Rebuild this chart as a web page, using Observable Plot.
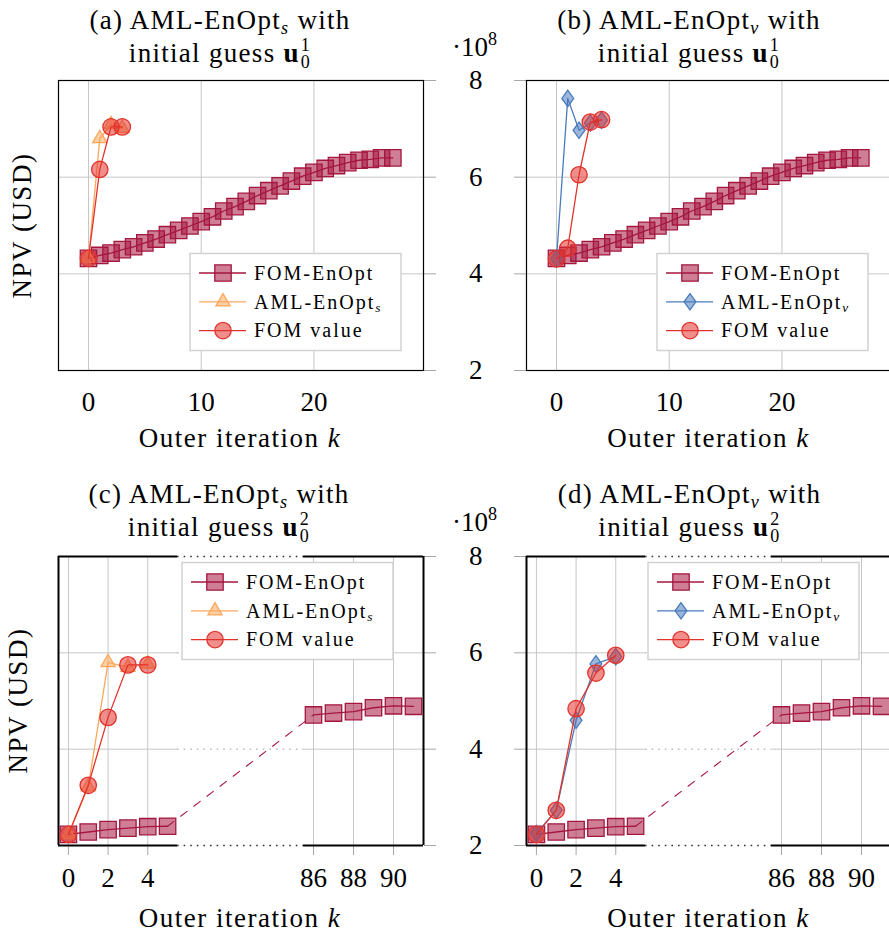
<!DOCTYPE html>
<html><head><meta charset="utf-8">
<script src="https://cdn.jsdelivr.net/npm/d3@7"></script>
<script src="https://cdn.jsdelivr.net/npm/@observablehq/plot@0.6"></script>
<style>
html,body{margin:0;padding:0;background:#fff;}
#wrap{position:relative;width:889px;height:933px;overflow:hidden;font-family:'Liberation Serif',serif;color:#000;}
#wrap svg{position:absolute;left:0;top:0;}
.t{position:absolute;white-space:nowrap;font-family:'Liberation Serif',serif;z-index:10;}
.s27{font-size:27px;line-height:27px;letter-spacing:1.3px;}
.s20{font-size:20px;line-height:20px;letter-spacing:2px;}
.c{width:360px;text-align:center;}
.sb{position:relative;font-size:0.67em;}
.lo{top:0.28em;font-style:italic;}
.yl{transform:rotate(-90deg);transform-origin:50% 50%;letter-spacing:1.5px;}
.stk{display:inline-flex;flex-direction:column;font-size:18px;line-height:17px;vertical-align:11px;margin:-17px 0 -17px 1px;}
</style></head><body>
<div id="wrap">
  <!-- titles -->
  <div class="t s27 c" style="left:40px;top:6.7px">(a) AML-EnOpt<span class="sb lo">s</span> with</div>
  <div class="t s27 c" style="left:40px;top:40.1px">initial guess <b>u</b><span class="stk"><span>1</span><span>0</span></span></div>
  <div class="t s27 c" style="left:509px;top:6.7px">(b) AML-EnOpt<span class="sb lo">v</span> with</div>
  <div class="t s27 c" style="left:509px;top:40.1px">initial guess <b>u</b><span class="stk"><span>1</span><span>0</span></span></div>
  <div class="t s27 c" style="left:39px;top:480.7px">(c) AML-EnOpt<span class="sb lo">s</span> with</div>
  <div class="t s27 c" style="left:39px;top:514.1px">initial guess <b>u</b><span class="stk"><span>2</span><span>0</span></span></div>
  <div class="t s27 c" style="left:509.5px;top:480.7px">(d) AML-EnOpt<span class="sb lo">v</span> with</div>
  <div class="t s27 c" style="left:509.5px;top:514.1px">initial guess <b>u</b><span class="stk"><span>2</span><span>0</span></span></div>
  <!-- axis labels -->
  <div class="t s27 c" style="left:60px;top:425.4px;letter-spacing:1.5px">Outer iteration <i>k</i></div>
  <div class="t s27 c" style="left:528.5px;top:425.4px;letter-spacing:1.5px">Outer iteration <i>k</i></div>
  <div class="t s27 c" style="left:60px;top:905.4px;letter-spacing:1.5px">Outer iteration <i>k</i></div>
  <div class="t s27 c" style="left:528.5px;top:905.4px;letter-spacing:1.5px">Outer iteration <i>k</i></div>
  <div class="t s27 c yl" style="left:-157.6px;top:211.5px">NPV (USD)</div>
  <div class="t s27 c yl" style="left:-162.1px;top:687px">NPV (USD)</div>
  <!-- scale exponent -->
  <div class="t s27" style="left:452px;top:34.1px;letter-spacing:0">·10<span class="sb" style="top:-0.62em">8</span></div>
  <div class="t s27" style="left:452px;top:509.1px;letter-spacing:0">·10<span class="sb" style="top:-0.62em">8</span></div>
  <!-- legend labels -->
  <div class="t s20" style="left:254px;top:262.75px">FOM-EnOpt</div>
  <div class="t s20" style="left:254px;top:291.55px">AML-EnOpt<span class="sb lo">s</span></div>
  <div class="t s20" style="left:254px;top:320.35px">FOM value</div>
  <div class="t s20" style="left:721px;top:262.75px">FOM-EnOpt</div>
  <div class="t s20" style="left:721px;top:291.55px">AML-EnOpt<span class="sb lo">v</span></div>
  <div class="t s20" style="left:721px;top:320.35px">FOM value</div>
  <div class="t s20" style="left:246px;top:571.75px">FOM-EnOpt</div>
  <div class="t s20" style="left:246px;top:600.55px">AML-EnOpt<span class="sb lo">s</span></div>
  <div class="t s20" style="left:246px;top:629.35px">FOM value</div>
  <div class="t s20" style="left:712px;top:571.75px">FOM-EnOpt</div>
  <div class="t s20" style="left:712px;top:600.55px">AML-EnOpt<span class="sb lo">v</span></div>
  <div class="t s20" style="left:712px;top:629.35px">FOM value</div>
</div>
<script>
// ---------------- data (NPV in units of 1e8 USD) ----------------
const iterFOM1 = [0,1,2,3,4,5,6,7,8,9,10,11,12,13,14,15,16,17,18,19,20,21,22,23,24,25,26,27];
const npvFOM1 = [4.32,4.38,4.43,4.50,4.56,4.64,4.72,4.81,4.90,4.99,5.08,5.18,5.30,5.39,5.50,5.62,5.72,5.82,5.92,6.02,6.10,6.18,6.24,6.30,6.35,6.37,6.40,6.40];
const iterShort = [0,1,2,3,4];
const npvAmlS1 = [4.32,6.80,7.09,7.01];
const npvFomValS1 = [4.32,6.16,7.04,7.04];
const npvAmlV1 = [4.31,7.63,6.97,7.12,7.18];
const npvFomValV1 = [4.31,4.53,6.05,7.14,7.19];
const iterFOM2 = [0,1,2,3,4,5,86,87,88,89,90,91];
const npvFOM2 = [2.23,2.28,2.33,2.36,2.39,2.40,4.71,4.75,4.78,4.86,4.90,4.89];
const npvAmlS2 = [2.23,3.22,5.80,5.70,5.77];
const npvFomValS2 = [2.23,3.25,4.66,5.75,5.75];
const npvAmlV2 = [2.25,2.73,4.60,5.77,5.92];
const npvFomValV2 = [2.23,2.73,4.84,5.58,5.95];
const yTicks = [2,4,6,8];
const xTicks1 = [0,10,20];
const xTicks2 = [0,2,4,86,88,90];
const xDomain1 = [-2.66, 29.72];
const xDomain2 = [-0.5, 5.5, 85.5, 91.5];   // broken axis: two sections
const yDomain = [2, 8];

// ---------------- style ----------------
const FONT = "Liberation Serif";
const C_FOM = "#a5163f", C_AMLS = "#fca85c", C_FOMV = "#e2322c", C_AMLV = "#4a7bbd";
const gridColor = "#c6c6c6", tickColor = "#a6a6a6";
const R = 8.2, FO = 0.55, SW = 1.3;
const sqSym = {draw(c, s){ const r = Math.sqrt(s/Math.PI); c.moveTo(-r,-r); c.lineTo(r,-r); c.lineTo(r,r); c.lineTo(-r,r); c.closePath(); }};
const triSym = {draw(c, s){ const r = Math.sqrt(s/Math.PI); c.moveTo(0,-r); c.lineTo(0.866*r,0.5*r); c.lineTo(-0.866*r,0.5*r); c.closePath(); }};
const diaSym = {draw(c, s){ const r = Math.sqrt(s/Math.PI); c.moveTo(0,-r); c.lineTo(0.72*r,0); c.lineTo(0,r); c.lineTo(-0.72*r,0); c.closePath(); }};
const cirSym = d3.symbolCircle;
const fmt = d => String(d);

const wrap = document.getElementById("wrap");
const plotStyle = {background: "transparent", maxWidth: "none", fontFamily: FONT, overflow: "visible"};

function rows(xs, ys, extra = () => ({})) { return ys.map((y, i) => ({k: xs[i], npv: y, ...extra(xs[i])})); }

function series(xs, ys, color, sym) {
  const data = rows(xs, ys);
  return [
    Plot.line(data, {x: "k", y: "npv", stroke: color, strokeWidth: SW}),
    Plot.dot(data, {x: "k", y: "npv", symbol: sym, r: R, stroke: color, strokeWidth: SW, fill: color, fillOpacity: FO})
  ];
}
function brokenFOM(xs, ys) {
  const data = rows(xs, ys, k => ({seg: k < xDomain2[1] ? "L" : "R"}));
  const L = data.filter(d => d.seg === "L"), Rt = data.filter(d => d.seg === "R");
  return [
    Plot.line(data, {x: "k", y: "npv", z: "seg", stroke: C_FOM, strokeWidth: SW}),
    Plot.line([L[L.length-1], Rt[0]], {x: "k", y: "npv", stroke: C_FOM, strokeWidth: 1.1, strokeDasharray: "8,8.5"}),
    Plot.dot(data, {x: "k", y: "npv", symbol: sqSym, r: R, stroke: C_FOM, strokeWidth: SW, fill: C_FOM, fillOpacity: FO})
  ];
}

function makePlot(box, xOpts, marks) {
  const width = Math.max(889, box.r);
  const svg = Plot.plot({
    width, height: 933,
    marginLeft: box.l, marginRight: width - box.r, marginTop: box.t, marginBottom: 933 - box.b,
    x: {...xOpts, label: null}, y: {domain: yDomain, label: null},
    style: plotStyle,
    marks
  });
  d3.select(svg).selectAll("text").attr("font-family", FONT).style("font-family", FONT);
  wrap.appendChild(svg);
}

function yAxis(left) {
  return left
    ? Plot.axisY({ticks: yTicks, anchor: "left", tickSize: 12, tickPadding: 32, tickFormat: fmt, stroke: tickColor, fill: "black", fontSize: 27, fontFamily: FONT, label: null})
    : Plot.axisY({ticks: yTicks, anchor: "right", tickSize: 12, tickFormat: () => "", stroke: tickColor, label: null});
}
function continuousMarks(yAxisLeft) {
  return [
    Plot.gridX({ticks: xTicks1, stroke: gridColor, strokeOpacity: 1}),
    Plot.gridY({ticks: yTicks, stroke: gridColor, strokeOpacity: 1}),
    yAxis(yAxisLeft),
    Plot.axisX({ticks: xTicks1, tickSize: 0, tickPadding: 21, tickFormat: fmt, fontSize: 27, fontFamily: FONT, fill: "black", label: null}),
    Plot.frame({stroke: "black", strokeWidth: 1.2})
  ];
}
function brokenMarks(yAxisLeft) {
  const secs = [[xDomain2[0], xDomain2[1]], [xDomain2[2], xDomain2[3]]];
  const gap = [xDomain2[1], xDomain2[2]];
  const inner = yTicks.slice(1, -1), edges = [yTicks[0], yTicks[yTicks.length-1]];
  return [
    Plot.gridX({ticks: xTicks2, stroke: gridColor, strokeOpacity: 1}),
    ...secs.map(([a, b]) => Plot.ruleY(inner, {x1: a, x2: b, stroke: gridColor, strokeWidth: 1})),
    Plot.ruleY(inner, {x1: gap[0], x2: gap[1], stroke: "#9a9a9a", strokeWidth: 1, strokeDasharray: "1.6,5"}),
    yAxis(yAxisLeft),
    Plot.axisX({ticks: xTicks2, tickSize: 10, tickPadding: 12, tickFormat: fmt, stroke: tickColor, fill: "black", fontSize: 27, fontFamily: FONT, label: null}),
    Plot.ruleX([xDomain2[0], xDomain2[3]], {stroke: "black", strokeWidth: 2}),
    ...secs.map(([a, b]) => Plot.ruleY(edges, {x1: a, x2: b, stroke: "black", strokeWidth: 2})),
    Plot.ruleY(edges, {x1: gap[0], x2: gap[1], stroke: "#333", strokeWidth: 1.4, strokeDasharray: "1.6,5"})
  ];
}

// (a)
makePlot({l: 58, r: 423, t: 80, b: 370}, {domain: xDomain1}, [
  ...continuousMarks(false),
  ...series(iterFOM1, npvFOM1, C_FOM, sqSym),
  ...series(iterShort, npvAmlS1, C_AMLS, triSym),
  ...series(iterShort, npvFomValS1, C_FOMV, cirSym)
]);
// (b)
makePlot({l: 526, r: 891, t: 80, b: 370}, {domain: xDomain1}, [
  ...continuousMarks(true),
  ...series(iterFOM1, npvFOM1, C_FOM, sqSym),
  ...series(iterShort, npvAmlV1, C_AMLV, diaSym),
  ...series(iterShort, npvFomValV1, C_FOMV, cirSym)
]);
// (c)
makePlot({l: 58, r: 423, t: 556, b: 845}, {type: "linear", domain: xDomain2, range: [58, 177, 303, 423]}, [
  ...brokenMarks(false),
  ...brokenFOM(iterFOM2, npvFOM2),
  ...series(iterShort, npvAmlS2, C_AMLS, triSym),
  ...series(iterShort, npvFomValS2, C_FOMV, cirSym)
]);
// (d)
makePlot({l: 526, r: 891, t: 556, b: 845}, {type: "linear", domain: xDomain2, range: [526, 645, 771, 891]}, [
  ...brokenMarks(true),
  ...brokenFOM(iterFOM2, npvFOM2),
  ...series(iterShort, npvAmlV2, C_AMLV, diaSym),
  ...series(iterShort, npvFomValV2, C_FOMV, cirSym)
]);

// ---------------- legend boxes & swatches ----------------
const ov = d3.create("svg").attr("width", 889).attr("height", 933);
wrap.appendChild(ov.node());
function legend(x0, y0, items) {
  const g = ov.append("g");
  g.append("rect").attr("x", x0).attr("y", y0).attr("width", 211).attr("height", 97)
    .attr("fill", "white").attr("stroke", "#d2d2d2").attr("stroke-width", 1.5);
  items.forEach((it, i) => {
    const cy = y0 + 19.5 + i * 28.8;
    g.append("line").attr("x1", x0 + 9).attr("x2", x0 + 56).attr("y1", cy).attr("y2", cy)
      .attr("stroke", it.color).attr("stroke-width", SW);
    g.append("path").attr("d", d3.symbol(it.sym, Math.PI * R * R)())
      .attr("transform", `translate(${x0 + 33},${cy})`)
      .attr("fill", it.color).attr("fill-opacity", FO).attr("stroke", it.color).attr("stroke-width", SW);
  });
}
const L_FOM = {sym: sqSym, color: C_FOM}, L_FOMV = {sym: cirSym, color: C_FOMV};
const L_S = {sym: triSym, color: C_AMLS}, L_V = {sym: diaSym, color: C_AMLV};
legend(190, 253.5, [L_FOM, L_S, L_FOMV]);
legend(657, 253.5, [L_FOM, L_V, L_FOMV]);
legend(182, 562.5, [L_FOM, L_S, L_FOMV]);
legend(648, 562.5, [L_FOM, L_V, L_FOMV]);
</script>
</body></html>
